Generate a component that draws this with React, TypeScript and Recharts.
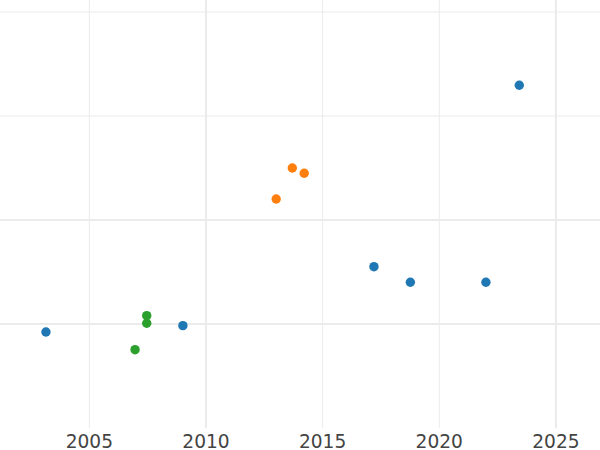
import React from 'react'
import { ScatterChart, Scatter, XAxis, YAxis, ReferenceLine } from 'recharts'

// (y has no labels, so it is in grid units)
const blueYears = [2003.14, 2009.01, 2017.2, 2018.76, 2022.0, 2023.43]
const blueValues = [0.923, 0.984, 1.551, 1.401, 1.401, 3.295]
const orangeYears = [2013.01, 2013.7, 2014.21]
const orangeValues = [2.202, 2.5, 2.449]
const greenYears = [2007.46, 2007.46, 2006.96]
const greenValues = [1.08, 1.007, 0.753]

const xTicks = [2005, 2010, 2015, 2020, 2025]
const thickX = [2010, 2025]
const yGrid = [1, 2, 3, 4]
const thickY = [1, 2]

const toPoints = (xs: number[], ys: number[]) => xs.map((x, i) => ({ x, y: ys[i] }))

const blueData = toPoints(blueYears, blueValues)
const orangeData = toPoints(orangeYears, orangeValues)
const greenData = toPoints(greenYears, greenValues)

const Dot = (color: string) => (props: any) => (
  <circle cx={props.cx} cy={props.cy} r={4.7} fill={color} />
)

const Tick = (props: any) => {
  const { x, y, payload } = props
  return (
    <text x={x} y={y + 20} textAnchor="middle" fill="#444444" fontSize={18.6} fontFamily="DejaVu Sans">
      {payload.value}
    </text>
  )
}

export default function App() {
  return (
    <div style={{ width: 600, height: 450 }}>
      <style>{`body { margin: 0; }`}</style>
      <ScatterChart width={600} height={450} margin={{ top: 0, right: 0, bottom: 0, left: 0 }}>
        <XAxis
          type="number"
          dataKey="x"
          domain={[2001.17, 2026.89]}
          ticks={xTicks}
          axisLine={false}
          tickLine={false}
          tickSize={0}
          tickMargin={0}
          height={22}
          tick={<Tick />}
          allowDataOverflow
        />
        <YAxis type="number" dataKey="y" domain={[0, 4.115]} hide allowDataOverflow />
        {xTicks.map((t) => (
          <ReferenceLine
            key={'x' + t}
            x={t}
            stroke="#ebebeb"
            strokeWidth={thickX.includes(t) ? 2 : 1}
          />
        ))}
        {yGrid.map((t) => (
          <ReferenceLine
            key={'y' + t}
            y={t}
            stroke="#ebebeb"
            strokeWidth={thickY.includes(t) ? 2 : 1}
          />
        ))}
        <Scatter data={blueData} fill="#1f77b4" shape={Dot('#1f77b4')} isAnimationActive={false} />
        <Scatter data={orangeData} fill="#ff7f0e" shape={Dot('#ff7f0e')} isAnimationActive={false} />
        <Scatter data={greenData} fill="#2ca02c" shape={Dot('#2ca02c')} isAnimationActive={false} />
      </ScatterChart>
    </div>
  )
}
